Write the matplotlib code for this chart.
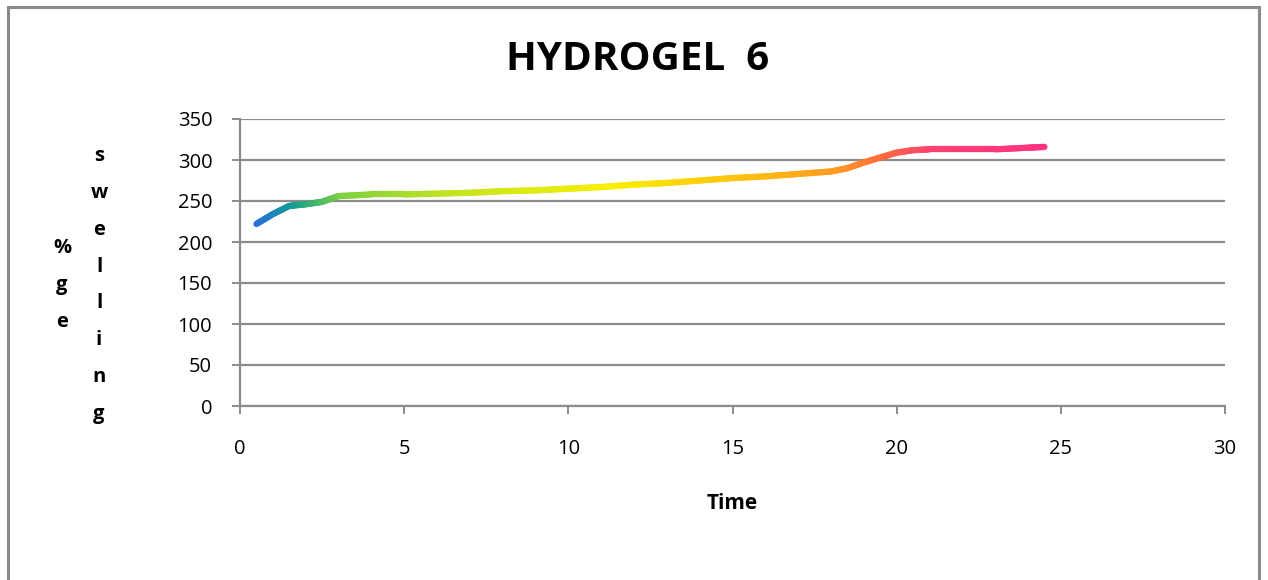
import numpy as np
import matplotlib
matplotlib.use("Agg")
import matplotlib.pyplot as plt
from matplotlib.collections import LineCollection
from matplotlib.colors import LinearSegmentedColormap
from matplotlib.patches import Rectangle

# data
time = [0.5, 1, 1.5, 2, 2.5, 3, 4, 5, 6, 7, 8, 9, 10, 11, 12, 13, 14,
        15, 16, 17, 18, 18.5, 19, 19.5, 20, 20.5, 21, 22, 23, 24, 24.5]
swelling = [222, 234, 244, 246, 249, 256, 258, 258, 259, 260, 262, 263,
            265, 267, 270, 272, 275, 278, 280, 283, 286, 290, 297, 303,
            309, 312, 313, 313, 313, 315, 316]

title = "HYDROGEL  6"
x_ticks = [0, 5, 10, 15, 20, 25, 30]
y_ticks = [0, 50, 100, 150, 200, 250, 300, 350]

# gradient used by the line, blue -> green -> yellow -> orange -> pink
grad_stops = [0.0, 0.05, 0.11, 0.25, 0.45, 0.62, 0.74, 0.8, 0.86, 1.0]
grad_colors = ["#2a6ee0", "#12a08e", "#80d040", "#c4e420", "#f7f000",
               "#ffc010", "#ff9a22", "#ff6a40", "#ff4272", "#ff3282"]

FONT = "Open Sans"
GRID = "#8c8c8c"

fig = plt.figure(figsize=(12.68, 5.8), dpi=100)
ax = fig.add_axes([240 / 1268, 1 - 406 / 580, 985 / 1268, 287 / 580])

# outer chart frame (bottom edge falls off the picture)
fig.patches.append(Rectangle((8 / 1268, -0.05), 1259 / 1268 - 8 / 1268,
                             1 - 7 / 580 + 0.05, transform=fig.transFigure,
                             fill=False, edgecolor="#8a8a8a", lw=2.2))

# gradient line: split each segment into short pieces so the colour can vary
cmap = LinearSegmentedColormap.from_list("grad",
                                         list(zip(grad_stops, grad_colors)))
xs, ys = [], []
for i in range(len(time) - 1):
    t = np.linspace(0, 1, 12, endpoint=False)
    xs.extend(time[i] + (time[i + 1] - time[i]) * t)
    ys.extend(swelling[i] + (swelling[i + 1] - swelling[i]) * t)
xs.append(time[-1])
ys.append(swelling[-1])
xs = np.array(xs)
ys = np.array(ys)
pts = np.column_stack([xs, ys]).reshape(-1, 1, 2)
segs = np.concatenate([pts[:-1], pts[1:]], axis=1)
norm = plt.Normalize(time[0], time[-1])
lc = LineCollection(segs, colors=cmap(norm((xs[:-1] + xs[1:]) / 2)),
                    linewidths=4.5, capstyle="round", joinstyle="round",
                    zorder=3)
ax.add_collection(lc)

ax.set_xlim(0, 30)
ax.set_ylim(0, 350)
ax.set_xticks(x_ticks)
ax.set_yticks(y_ticks)
ax.yaxis.grid(True, color=GRID, lw=1.6)
ax.set_axisbelow(True)

for s in ["top", "right"]:
    ax.spines[s].set_visible(False)
for s in ["left", "bottom"]:
    ax.spines[s].set_color(GRID)
    ax.spines[s].set_linewidth(1.6)

ax.tick_params(axis="both", colors=GRID, length=6, width=1.4,
               labelcolor="black", labelsize=14.5)
ax.tick_params(axis="y", pad=14)
ax.tick_params(axis="x", pad=18)
for lab in ax.get_xticklabels() + ax.get_yticklabels():
    lab.set_fontfamily(FONT)

ax.set_xlabel("Time", fontfamily=FONT, fontweight="bold", fontsize=15,
              labelpad=24)

fig.text(638 / 1268, 1 - 59 / 580, title, fontfamily=FONT,
         fontweight="bold", fontsize=29, ha="center", va="center")

# stacked-letter y axis titles
fig.text(62 / 1268, 1 - 285 / 580, "\n".join("%ge"), fontfamily=FONT,
         fontweight="bold", fontsize=14.5, ha="center", va="center",
         linespacing=2.13)
fig.text(99 / 1268, 1 - 285 / 580, "\n".join("swelling"), fontfamily=FONT,
         fontweight="bold", fontsize=14.5, ha="center", va="center",
         linespacing=2.13)

fig.savefig("out.png", dpi=100)
